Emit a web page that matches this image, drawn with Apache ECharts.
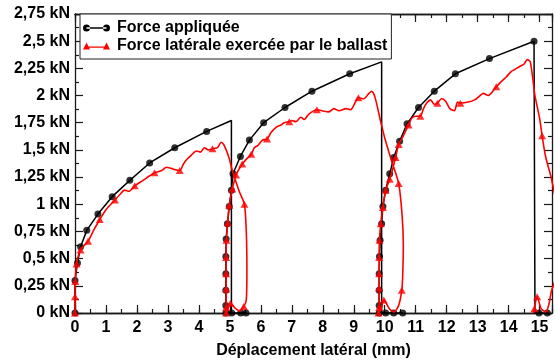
<!DOCTYPE html>
<html>
<head>
<meta charset="utf-8">
<script src="https://cdn.jsdelivr.net/npm/echarts@6/dist/echarts.min.js"></script>
<style>
  html, body { margin: 0; padding: 0; background: #fff; }
  #chart { width: 555px; height: 364px; }
</style>
</head>
<body>
<div id="chart"></div>
<script>
// Lateral displacement (mm) / force (kN) pairs, three loading cycles.
const appliedName = 'Force appliquée';
const lateralName = 'Force latérale exercée par le ballast';

// Applied force: full recorded path (including the unloading drops)
const appliedCurve = [
  [0, 0], [0, 0.3], [0.08, 0.46], [0.18, 0.61], [0.38, 0.76], [0.74, 0.91], [1.2, 1.07],
  [1.77, 1.22], [2.41, 1.38], [3.22, 1.52], [4.25, 1.67], [5.05, 1.77], [5.05, 0],
  [5.35, 0], [5.52, 0],
  [4.87, 0], [4.87, 0.07], [4.87, 0.21], [4.87, 0.36], [4.87, 0.52], [4.88, 0.68],
  [4.92, 0.82], [4.98, 0.98], [5.05, 1.13], [5.1, 1.28], [5.34, 1.44], [5.63, 1.59],
  [6.09, 1.75], [6.78, 1.89], [7.65, 2.04], [8.87, 2.2], [9.9, 2.31], [9.9, 0],
  [10.03, 0], [10.29, 0], [10.58, 0],
  [9.82, 0], [9.82, 0.07], [9.82, 0.21], [9.82, 0.36], [9.83, 0.52], [9.85, 0.67],
  [9.9, 0.82], [9.94, 0.98], [10.03, 1.13], [10.16, 1.28], [10.29, 1.43], [10.48, 1.58],
  [10.72, 1.74], [11.09, 1.89], [11.6, 2.04], [12.28, 2.2], [13.38, 2.34], [14.82, 2.5],
  [14.85, 0], [14.98, 0], [15.25, 0]
];
// Applied force: sampled points shown with markers
const appliedSamples = [
  [0, 0], [0, 0.3], [0.08, 0.46], [0.18, 0.61], [0.38, 0.76], [0.74, 0.91], [1.2, 1.07],
  [1.77, 1.22], [2.41, 1.38], [3.22, 1.52], [4.25, 1.67], [5.06, 0], [5.35, 0], [5.52, 0],
  [4.87, 0], [4.87, 0.07], [4.87, 0.21], [4.87, 0.36], [4.87, 0.52], [4.88, 0.68],
  [4.92, 0.82], [4.98, 0.98], [5.05, 1.13], [5.1, 1.28], [5.34, 1.44], [5.63, 1.59],
  [6.09, 1.75], [6.78, 1.89], [7.65, 2.04], [8.87, 2.2], [10.03, 0], [10.29, 0], [10.58, 0],
  [9.82, 0], [9.82, 0.07], [9.82, 0.21], [9.82, 0.36], [9.83, 0.52], [9.85, 0.67],
  [9.9, 0.82], [9.94, 0.98], [10.03, 1.13], [10.16, 1.28], [10.29, 1.43], [10.48, 1.58],
  [10.72, 1.74], [11.09, 1.89], [11.6, 2.04], [12.28, 2.2], [13.38, 2.34], [14.82, 2.5],
  [14.98, 0], [15.25, 0]
];

// Lateral force from the ballast: full recorded path
const lateralCurve = [
  [0, 0], [0, 0.15], [0.01, 0.29], [0.05, 0.45], [0.18, 0.58], [0.42, 0.66], [0.6, 0.76],
  [0.8, 0.86], [1.0, 0.95], [1.29, 1.04], [1.45, 1.09], [1.6, 1.13], [1.75, 1.12],
  [1.93, 1.17], [2.2, 1.22], [2.4, 1.26], [2.57, 1.29], [2.8, 1.31], [2.95, 1.34],
  [3.1, 1.33], [3.38, 1.31], [3.5, 1.37], [3.6, 1.41], [3.75, 1.45], [3.92, 1.49],
  [4.05, 1.48], [4.18, 1.52], [4.3, 1.5], [4.44, 1.51], [4.6, 1.52], [4.72, 1.57],
  [4.8, 1.55], [4.88, 1.5], [4.98, 1.42], [5.08, 1.31], [5.3, 1.12], [5.47, 1.0],
  [5.53, 0.75], [5.55, 0.4], [5.53, 0.12], [5.45, 0.06], [5.3, 0.02], [5.15, 0.05],
  [5.02, 0.09], [4.92, 0.02], [4.88, 0],
  [4.88, 0.05], [4.88, 0.22], [4.88, 0.36], [4.88, 0.51], [4.89, 0.67], [4.93, 0.83],
  [4.98, 0.99], [5.08, 1.14], [5.2, 1.27], [5.4, 1.37], [5.55, 1.42], [5.69, 1.46],
  [5.79, 1.52], [5.9, 1.54], [6.05, 1.59], [6.2, 1.6], [6.33, 1.66], [6.5, 1.71],
  [6.66, 1.73], [6.75, 1.75], [6.92, 1.76], [7.0, 1.77], [7.13, 1.76], [7.29, 1.8],
  [7.4, 1.78], [7.55, 1.83], [7.81, 1.87], [7.97, 1.86], [8.2, 1.85], [8.36, 1.88],
  [8.52, 1.86], [8.75, 1.88], [8.9, 1.87], [9.07, 1.95], [9.15, 1.98], [9.32, 1.97],
  [9.49, 2.02], [9.58, 2.04], [9.68, 1.99], [9.87, 1.76], [10.0, 1.61], [10.22, 1.4],
  [10.45, 1.19], [10.56, 0.9], [10.6, 0.62], [10.58, 0.35], [10.55, 0.21], [10.45, 0.07],
  [10.3, 0.01], [10.15, 0.04], [9.97, 0.12], [9.87, 0.03], [9.8, 0],
  [9.82, 0.05], [9.82, 0.23], [9.82, 0.36], [9.82, 0.51], [9.83, 0.67], [9.87, 0.82],
  [9.94, 0.97], [10.03, 1.13], [10.16, 1.23], [10.28, 1.35], [10.35, 1.43], [10.45, 1.55],
  [10.6, 1.63], [10.77, 1.73], [10.87, 1.79], [10.99, 1.81], [11.15, 1.81], [11.25, 1.88],
  [11.35, 1.93], [11.48, 1.96], [11.6, 1.92], [11.7, 1.93], [11.83, 1.97], [11.96, 1.95],
  [12.1, 1.88], [12.25, 1.86], [12.35, 1.94], [12.44, 1.93], [12.7, 1.94], [12.9, 1.96],
  [13.08, 2.0], [13.18, 2.02], [13.34, 2.0], [13.6, 2.08], [13.77, 2.13], [13.92, 2.17],
  [14.08, 2.22], [14.2, 2.24], [14.37, 2.27], [14.5, 2.29], [14.6, 2.33], [14.7, 2.31],
  [14.85, 2.0], [15.0, 1.79], [15.08, 1.63], [15.2, 1.43], [15.37, 1.25], [15.6, 0.9],
  [15.65, 0.5], [15.5, 0.3], [15.38, 0.2], [15.3, 0.08], [15.2, 0.01], [15.05, 0.04],
  [14.92, 0.15], [14.83, 0.04], [14.8, 0]
];
// Lateral force: sampled points shown with markers
const lateralSamples = [
  [0, 0], [0, 0.15], [0.01, 0.29], [0.05, 0.45], [0.18, 0.58], [0.42, 0.66], [0.8, 0.86],
  [1.29, 1.04], [1.93, 1.17], [2.57, 1.29], [3.38, 1.31], [4.44, 1.51], [5.47, 1.0],
  [5.45, 0.06], [5.02, 0.09], [4.88, 0],
  [4.88, 0.05], [4.88, 0.22], [4.88, 0.36], [4.88, 0.51], [4.89, 0.67], [4.93, 0.83],
  [4.98, 0.99], [5.08, 1.14], [5.2, 1.27], [5.4, 1.37], [5.69, 1.46], [6.2, 1.6],
  [6.92, 1.76], [7.81, 1.87], [9.15, 1.98], [10.45, 1.19], [10.55, 0.21], [9.97, 0.12],
  [9.8, 0],
  [9.82, 0.05], [9.82, 0.23], [9.82, 0.36], [9.82, 0.51], [9.83, 0.67], [9.87, 0.82],
  [9.94, 0.97], [10.03, 1.13], [10.16, 1.23], [10.35, 1.43], [10.45, 1.55], [10.77, 1.73],
  [11.15, 1.81], [11.7, 1.93], [12.44, 1.93], [13.6, 2.08], [15.08, 1.63], [14.92, 0.15],
  [14.83, 0.04]
];

// Axis extents
const xMin = 0, xMax = 15.4, xStep = 1;
const yMin = 0, yMax = 2.75, yStep = 0.25;

const FONT = '"Liberation Sans", Arial, Helvetica, sans-serif';
const AXIS_COLOR = '#1a1a1a';

const chart = echarts.init(document.getElementById('chart'), null, { renderer: 'canvas' });

function xAxisDef(position, interval, tickLen, withLabels) {
  return {
    type: 'value', position, min: xMin, max: xMax, interval,
    axisLine: { show: true, onZero: false, lineStyle: { color: AXIS_COLOR, width: 1.3 } },
    axisTick: { show: true, inside: true, length: tickLen, lineStyle: { color: AXIS_COLOR, width: 1.2 } },
    axisLabel: withLabels ? {
      show: true, margin: 7, color: '#000', fontFamily: FONT, fontWeight: 'bold', fontSize: 16,
      formatter: v => (Math.abs(v - Math.round(v)) < 1e-9 ? String(Math.round(v)) : '')
    } : { show: false },
    splitLine: { show: false }
  };
}

function yAxisDef(position, withLabels) {
  return {
    type: 'value', position, min: yMin, max: yMax, interval: yStep,
    axisLine: { show: true, onZero: false, lineStyle: { color: AXIS_COLOR, width: 1.3 } },
    axisTick: { show: true, inside: true, length: 8, lineStyle: { color: AXIS_COLOR, width: 1.2 } },
    minorTick: { show: true, splitNumber: 2, length: 4, lineStyle: { color: AXIS_COLOR, width: 1.2 } },
    axisLabel: withLabels ? {
      show: true, margin: 5, color: '#000', fontFamily: FONT, fontWeight: 'bold', fontSize: 16,
      formatter: v => String(+v.toFixed(2)).replace('.', ',') + ' kN'
    } : { show: false },
    splitLine: { show: false }
  };
}

const bottomMajor = xAxisDef('bottom', xStep, 8, true);
bottomMajor.name = 'Déplacement latéral (mm)';
bottomMajor.nameLocation = 'middle';
bottomMajor.nameGap = 30;
bottomMajor.nameTextStyle = { color: '#000', fontFamily: FONT, fontWeight: 'bold', fontSize: 16 };

const option = {
  animation: false,
  backgroundColor: '#fff',
  grid: { left: 75, right: 0, top: 14, bottom: 45, containLabel: false },
  xAxis: [
    bottomMajor,
    xAxisDef('bottom', xStep / 2, 4, false),
    xAxisDef('top', xStep, 8, false),
    xAxisDef('top', xStep / 2, 4, false)
  ],
  yAxis: [yAxisDef('left', true), yAxisDef('right', false)],
  legend: {
    orient: 'vertical',
    left: 80, top: 14,
    padding: [5, 4, 4, 3],
    itemGap: 0,
    itemWidth: 27, itemHeight: 7,
    backgroundColor: '#fff',
    borderColor: '#222', borderWidth: 1,
    textStyle: { color: '#000', fontFamily: FONT, fontWeight: 'bold', fontSize: 16, lineHeight: 18, padding: [0, 0, 0, 2] },
    z: 10,
    data: [
      { name: appliedName, icon: 'path://M0,3.5a3.5,3.5 0 1,0 7,0a3.5,3.5 0 1,0 -7,0Z M20,3.5a3.5,3.5 0 1,0 7,0a3.5,3.5 0 1,0 -7,0Z M3.5,2.8H23.5V4.2H3.5Z' },
      { name: lateralName, icon: 'path://M0,7L3.5,0L7,7Z M20,7L23.5,0L27,7Z M3.5,4H23.5V5.3H3.5Z' }
    ]
  },
  series: [
    {
      name: appliedName, type: 'line', data: appliedCurve, xAxisIndex: 0, yAxisIndex: 0,
      showSymbol: false, symbol: 'none', clip: true,
      lineStyle: { color: '#000', width: 1.5 }, itemStyle: { color: '#000' }, z: 2
    },
    {
      name: appliedName, type: 'scatter', data: appliedSamples, xAxisIndex: 0, yAxisIndex: 0,
      symbol: 'circle', symbolSize: 7, clip: true,
      itemStyle: { color: '#000' }, z: 3
    },
    {
      name: lateralName, type: 'line', data: lateralCurve, xAxisIndex: 0, yAxisIndex: 0,
      showSymbol: false, symbol: 'none', smooth: 0.25, clip: true,
      lineStyle: { color: '#ff0000', width: 1.6 }, itemStyle: { color: '#ff0000' }, z: 4
    },
    {
      name: lateralName, type: 'scatter', data: lateralSamples, xAxisIndex: 0, yAxisIndex: 0,
      symbol: 'triangle', symbolSize: [8, 7], clip: true,
      itemStyle: { color: '#ff0000' }, z: 5
    }
  ]
};

chart.setOption(option);
</script>
</body>
</html>
